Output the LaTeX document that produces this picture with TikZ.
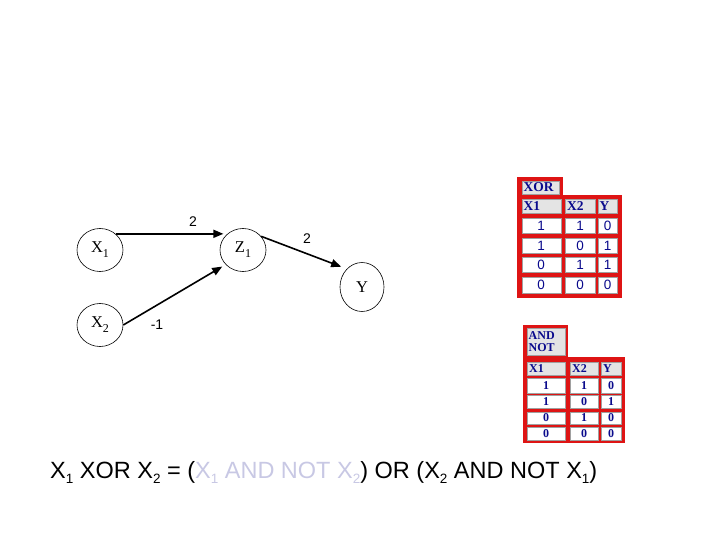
\documentclass[tikz,border=0pt]{standalone}
\usepackage{fontspec}
\setmainfont{Liberation Serif}
\newfontfamily\arialf{Liberation Sans}
\usetikzlibrary{shapes.geometric,arrows.meta}
\definecolor{tabred}{RGB}{222,20,20}
\definecolor{navy}{RGB}{10,10,140}
\definecolor{cellgray}{RGB}{228,228,228}
\definecolor{lav}{RGB}{200,200,228}
\newcommand{\sbx}[1]{\raisebox{-0.22em}{\fontsize{13.5}{14}\selectfont #1}}
\newcommand{\nsub}[1]{\raisebox{-0.3em}{\fontsize{12}{12}\selectfont #1}}
\begin{document}
\begin{tikzpicture}[x=1pt,y=-1pt,
  neuron/.style={draw,ellipse,line width=0.6pt,inner sep=0pt,minimum width=46pt,minimum height=43pt,font=\fontsize{16.5}{18}\selectfont},
  conn/.style={-{Triangle[length=10pt,width=8pt]},line width=1.6pt},
  wlabel/.style={font=\arialf\fontsize{14}{16}\selectfont,inner sep=0pt},
  redbg/.style={fill=tabred,draw=none},
  hcell/.style={fill=cellgray,draw=cellgray!70!black,line width=0.3pt},
  dcell/.style={fill=white,draw=cellgray!70!black,line width=0.3pt},
  htext/.style={font=\bfseries\fontsize{13.5}{14}\selectfont,text=navy,inner sep=0pt},
  htextb/.style={font=\bfseries\fontsize{12}{12.5}\selectfont,text=navy,inner sep=0pt},
  dtext/.style={font=\arialf\fontsize{13.5}{14}\selectfont,text=navy,inner sep=0pt},
  dtextb/.style={font=\bfseries\fontsize{12}{12}\selectfont,text=navy,inner sep=0pt}]
\useasboundingbox (0,0) rectangle (720,540);

% neurons
\node[neuron] (x1) at (100,250) {X\nsub{1}};
\node[neuron] (x2) at (100,325) {X\nsub{2}};
\node[neuron] (z1) at (243,250) {Z\nsub{1}};
\node[neuron,minimum width=44pt,minimum height=49pt] (y) at (362,287) {Y};

\draw[conn,shorten >=4pt] (x1.46) -- (z1.134);
\draw[conn,shorten >=4pt] (x2.east) -- (z1.220);
\draw[conn,shorten >=6pt] (z1.37) -- (y.130);

\node[wlabel] (l1) at (193,222) {2};
\node[wlabel] (l2) at (307,239) {2};
\node[wlabel] (l3) at (157,325) {-1};

% XOR table
\fill[redbg] (517,177) rectangle (563,197);
\fill[redbg] (517,195) rectangle (622,298);
\draw[hcell] (522,181) rectangle (559,194);
\node[htext,anchor=west] (xorh) at (523.5,187.5) {XOR};
\draw[hcell] (522,199) rectangle (561,213);
\draw[hcell] (565,199) rectangle (595,213);
\draw[hcell] (598,199) rectangle (617,213);
\node[htext,anchor=west] at (523.5,206) {X1};
\node[htext,anchor=west] at (567,206) {X2};
\node[htext,anchor=west] at (599.5,206) {Y};
\foreach \ya/\yb/\p/\q/\r in {218/233/1/1/0,238/253/1/0/1,257/272/0/1/1,277/293/0/0/0}{
  \draw[dcell] (522,\ya) rectangle (561,\yb);
  \draw[dcell] (565,\ya) rectangle (595,\yb);
  \draw[dcell] (598,\ya) rectangle (617,\yb);
  \node[dtext] at (541,{(\ya+\yb)/2}) {\p};
  \node[dtext] at (580,{(\ya+\yb)/2}) {\q};
  \node[dtext] at (607.5,{(\ya+\yb)/2}) {\r};
}

% AND NOT table
\fill[redbg] (523,325) rectangle (568,360);
\fill[redbg] (523,357) rectangle (625,443);
\draw[hcell] (527,328) rectangle (565,355);
\node[htextb,anchor=west,align=left] (andnot) at (528.5,341.5) {AND\\NOT};
\draw[hcell] (527,362) rectangle (565,375);
\draw[hcell] (570,362) rectangle (598,375);
\draw[hcell] (601,362) rectangle (621,375);
\node[htextb,anchor=west] at (529,368.5) {X1};
\node[htextb,anchor=west] at (572,368.5) {X2};
\node[htextb,anchor=west] at (603,368.5) {Y};
\foreach \ya/\yb/\p/\q/\r in {378/393/1/1/0,395/408/1/0/1,412/424/0/1/0,427/440/0/0/0}{
  \draw[dcell] (527,\ya) rectangle (565,\yb);
  \draw[dcell] (570,\ya) rectangle (598,\yb);
  \draw[dcell] (601,\ya) rectangle (621,\yb);
  \node[dtextb] at (546,{(\ya+\yb)/2}) {\p};
  \node[dtextb] at (584,{(\ya+\yb)/2}) {\q};
  \node[dtextb] at (611,{(\ya+\yb)/2}) {\r};
}

% formula
\node[anchor=base west,inner sep=0pt,font=\arialf\fontsize{23.5}{28}\selectfont] (formula) at (50,478)
  {X\sbx{1} XOR X\sbx{2} = (\textcolor{lav}{X\sbx{1} AND NOT X\sbx{2}}) OR (X\sbx{2} AND NOT X\sbx{1})};
\end{tikzpicture}
\end{document}
